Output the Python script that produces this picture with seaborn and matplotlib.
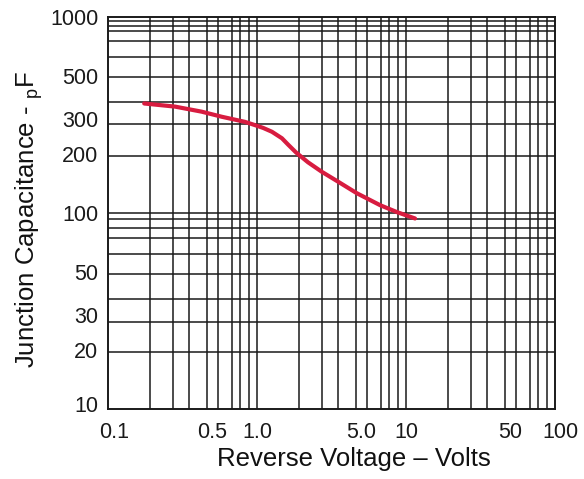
import numpy as np
import pandas as pd
import matplotlib
matplotlib.use("Agg")
import matplotlib.pyplot as plt
import matplotlib.transforms as mtransforms
import seaborn as sns
from matplotlib.ticker import FixedLocator, FixedFormatter, NullFormatter

# ---- data ----
voltage = [0.175, 0.282, 0.425, 0.58, 0.83, 0.97, 1.10, 1.26, 1.47, 1.615,
           1.83, 2.2, 2.72, 3.51, 4.67, 6.69, 8.66, 11.5]
capacitance = [361, 348, 328, 309, 291, 280, 271, 259, 240, 223,
               203, 181, 162, 144, 126, 109.5, 101, 93.6]

x_tick_values = [0.1, 0.5, 1.0, 5.0, 10, 50, 100]
x_tick_labels = ["0.1", "0.5", "1.0", "5.0", "10", "50", "100"]
y_tick_values = [10, 20, 30, 50, 100, 200, 300, 500, 1000]
y_tick_labels = ["10", "20", "30", "50", "100", "200", "300", "500", "1000"]

# graph-paper rulings (as drawn on the original chart paper)
x_rulings = [0.19, 0.275, 0.35, 0.465, 0.55, 0.68, 0.77, 0.885, 1.0,
             1.9, 2.75, 3.5, 4.65, 5.5, 6.8, 7.7, 8.85, 10,
             19, 27.5, 35, 46.5, 55, 68, 77, 88.5]
y_rulings = [19.6, 27.9, 36.2, 48.7, 61.6, 74.4, 83.8, 93.5, 100,
             195, 284, 367, 492, 623, 751, 845, 900, 951]

df = pd.DataFrame({"Reverse Voltage": voltage, "Capacitance": capacitance})

sns.set_theme(style="white")
plt.rcParams["font.family"] = ["Liberation Sans", "DejaVu Sans"]
plt.rcParams["mathtext.fontset"] = "custom"
plt.rcParams["mathtext.rm"] = "Liberation Sans"

fig = plt.figure(figsize=(5.84, 4.79), dpi=100)
ax = fig.add_axes([108 / 584, 1 - 409 / 479, (555 - 108) / 584, (409 - 16.7) / 479])

sns.lineplot(data=df, x="Reverse Voltage", y="Capacitance", ax=ax,
             color="#d81c40", linewidth=3.0, zorder=5, sort=False)

ax.set_xscale("log")
ax.set_yscale("log")
ax.set_xlim(0.1, 100)
ax.set_ylim(10, 1000)

ax.xaxis.set_major_locator(FixedLocator(x_tick_values))
ax.xaxis.set_major_formatter(FixedFormatter(x_tick_labels))
ax.yaxis.set_major_locator(FixedLocator(y_tick_values))
ax.yaxis.set_major_formatter(FixedFormatter(y_tick_labels))
ax.xaxis.set_minor_locator(FixedLocator(x_rulings))
ax.yaxis.set_minor_locator(FixedLocator(y_rulings))
ax.xaxis.set_minor_formatter(NullFormatter())
ax.yaxis.set_minor_formatter(NullFormatter())
ax.xaxis.remove_overlapping_locs = False
ax.yaxis.remove_overlapping_locs = False

ax.grid(False, which="major")
ax.grid(True, which="minor", color="#1a1a1a", linewidth=1.1)
ax.tick_params(which="both", length=0)
ax.tick_params(axis="x", labelsize=15.5, pad=9, colors="#1a1a1a")
ax.tick_params(axis="y", labelsize=15.5, pad=7, colors="#1a1a1a")

for s in ax.spines.values():
    s.set_color("#1a1a1a")
    s.set_linewidth(1.4)

ax.set_xlabel("Reverse Voltage – Volts", fontsize=18.5, color="#111111")
ax.set_ylabel(r"Junction Capacitance - $_{\mathregular{p}}$F", fontsize=18.5,
              color="#111111")
ax.xaxis.set_label_coords(0.55, -0.098)
ax.yaxis.set_label_coords(-0.141, 0.482)

# small nudges of the end labels, as on the original print
fig.canvas.draw()
xl = ax.get_xticklabels()
for lab, dx in ((xl[0], 6), (xl[-1], 5)):
    lab.set_transform(lab.get_transform() + mtransforms.ScaledTranslation(dx / 100, 0, fig.dpi_scale_trans))
yl = ax.get_yticklabels()
yl[0].set_transform(yl[0].get_transform() + mtransforms.ScaledTranslation(0, 5 / 100, fig.dpi_scale_trans))

fig.savefig("out.png", dpi=100)
